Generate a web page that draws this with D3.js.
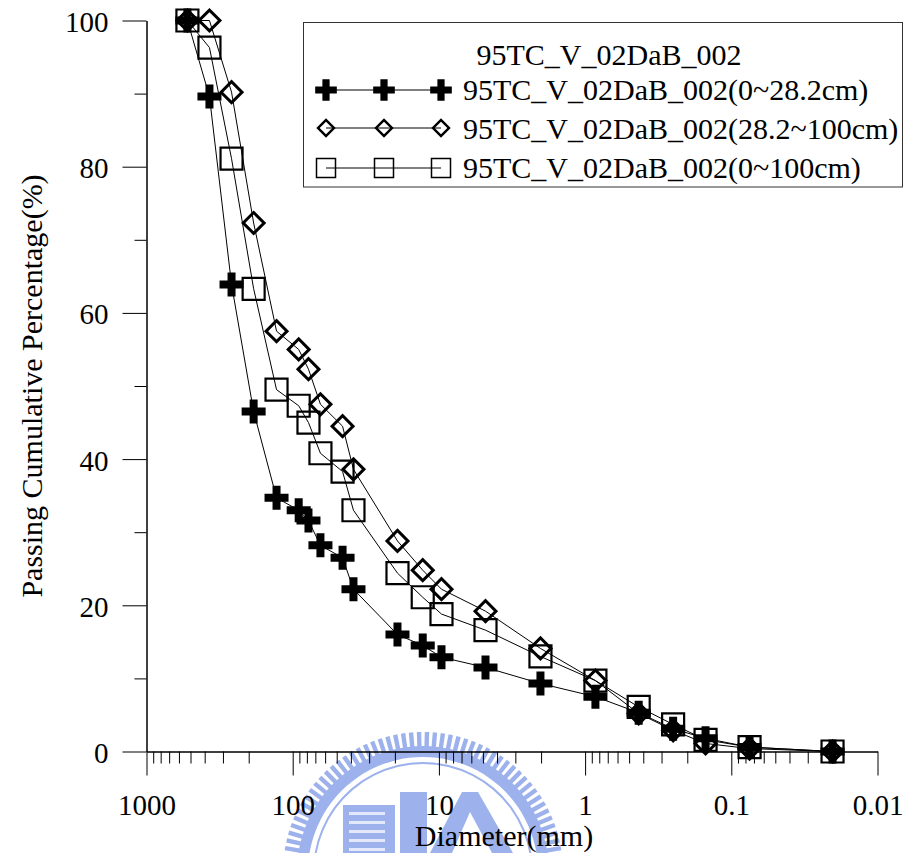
<!DOCTYPE html>
<html>
<head>
<meta charset="utf-8">
<script src="https://cdn.jsdelivr.net/npm/d3@7"></script>
<style>
  html, body { margin: 0; padding: 0; background: #fff; }
  svg { display: block; }
  svg text { font-family: "Liberation Serif", Tinos, "Times New Roman", Times, "DejaVu Serif", serif !important; fill: #000; }
</style>
</head>
<body>
<svg id="chart" width="907" height="853"></svg>
<script>
// ---------------- data ----------------
const diameters = [525, 371, 262, 185, 129, 91, 78, 64.6, 45.6, 38.4, 19.2, 12.9, 9.6, 4.8, 2.02, 0.85, 0.43, 0.25, 0.15, 0.075, 0.0203];
const pass0to28 = [100, 89.6, 63.9, 46.5, 34.7, 33, 31.6, 28.2, 26.5, 22.2, 16, 14.5, 12.9, 11.5, 9.3, 7.5, 5.3, 3.1, 1.8, 0.6, 0];
const pass28to100 = [100, 100, 90.2, 72.3, 57.5, 55, 52.3, 47.5, 44.5, 38.6, 28.8, 24.8, 22.2, 19.2, 14.1, 9.7, 5.2, 2.9, 1.1, 0.4, 0];
const pass0to100 = [100, 96.3, 81.1, 63.3, 49.5, 47.3, 45, 40.8, 38.3, 33, 24.4, 21.1, 18.8, 16.6, 13, 9.7, 6.1, 3.7, 1.6, 0.6, 0];
const seriesNames = ["95TC_V_02DaB_002(0~28.2cm)", "95TC_V_02DaB_002(28.2~100cm)", "95TC_V_02DaB_002(0~100cm)"];
const legendTitle = "95TC_V_02DaB_002";
const xTickValues = [1000, 100, 10, 1, 0.1, 0.01];
const xTickLabels = ["1000", "100", "10", "1", "0.1", "0.01"];
const yTickValues = [0, 20, 40, 60, 80, 100];
const yMinorValues = [10, 30, 50, 70, 90];
const xLabel = "Diameter(mm)";
const yLabel = "Passing Cumulative Percentage(%)";

const FONT = '"Liberation Serif", Tinos, "Times New Roman", Times, "DejaVu Serif", serif';

// ---------------- setup ----------------
const svg = d3.select("#chart");
const x = d3.scaleLog().domain([1000, 0.01]).range([146.5, 877.5]);
const y = d3.scaleLinear().domain([0, 100]).range([751.5, 20.5]);

// ---------------- watermark (faint logo) ----------------
const wm = svg.append("g").attr("fill", "#9db2ec").attr("stroke", "none");
const cx = 423, cy = 872;
const nTeeth = 110;
for (let i = 0; i < nTeeth; i++) {
  const a = (i / nTeeth) * 2 * Math.PI;
  if (Math.sin(a) > 0.25) continue;
  const deg = a * 180 / Math.PI;
  wm.append("rect")
    .attr("x", -2.2).attr("y", -140).attr("width", 4.4).attr("height", 15)
    .attr("transform", `translate(${cx},${cy}) rotate(${deg + 90})`);
}
wm.append("path")
  .attr("d", d3.arc().innerRadius(115).outerRadius(126).startAngle(-Math.PI * 0.62).endAngle(Math.PI * 0.62)())
  .attr("transform", `translate(${cx},${cy})`);
wm.append("path")
  .attr("d", d3.arc().innerRadius(108).outerRadius(110).startAngle(-Math.PI * 0.6).endAngle(Math.PI * 0.6)())
  .attr("transform", `translate(${cx},${cy})`);
// buildings
wm.append("rect").attr("x", 343).attr("y", 805).attr("width", 52).attr("height", 48);
for (let k = 0; k < 5; k++) {
  svg.append("rect").attr("x", 349).attr("y", 812 + k * 9).attr("width", 36).attr("height", 3).attr("fill", "#e3e9fb");
}
wm.append("rect").attr("x", 400).attr("y", 792).attr("width", 27).attr("height", 61);
wm.append("path").attr("d", "M430,853 L462,792 L478,792 L513,853 L492,853 L470,812 L452,853 Z");

// ---------------- axes ----------------
const minorX = [];
for (let e = -2; e <= 2; e++) for (let k = 2; k <= 9; k++) minorX.push(k * Math.pow(10, e));

const gxMinor = svg.append("g").attr("transform", `translate(0,${y(0)})`)
  .call(d3.axisBottom(x).tickValues(minorX).tickFormat("").tickSize(12).tickSizeOuter(0));
const gxMajor = svg.append("g").attr("transform", `translate(0,${y(0)})`)
  .call(d3.axisBottom(x).tickValues(xTickValues).tickFormat((d, i) => xTickLabels[i]).tickSize(24).tickSizeOuter(0));
gxMajor.selectAll("text").attr("y", 815 - y(0)).attr("dy", 0);

const gyMinor = svg.append("g").attr("transform", `translate(${x(1000)},0)`)
  .call(d3.axisLeft(y).tickValues(yMinorValues).tickFormat("").tickSize(12).tickSizeOuter(0));
const gyMajor = svg.append("g").attr("transform", `translate(${x(1000)},0)`)
  .call(d3.axisLeft(y).tickValues(yTickValues).tickSize(24).tickPadding(14).tickSizeOuter(0));
gyMajor.selectAll("text").attr("dy", 0).attr("y", 11);
[gxMinor, gxMajor, gyMinor, gyMajor].forEach(g => g.attr("font-family", FONT).attr("font-size", 29));
svg.selectAll(".domain, .tick line").attr("stroke", "#000").attr("stroke-width", 1);

// axis titles
svg.append("text").attr("x", 504).attr("y", 846).attr("text-anchor", "middle")
  .attr("font-family", FONT).attr("font-size", 30).text(xLabel);
svg.append("text").attr("transform", "translate(42,386) rotate(-90)").attr("text-anchor", "middle")
  .attr("font-family", FONT).attr("font-size", 30).text(yLabel);

// ---------------- series ----------------
const crossSym = d3.symbol(d3.symbolCross, 320);
const diamondSym = d3.symbol(d3.symbolSquare, 220);
const squareSym = d3.symbol(d3.symbolSquare, 484);

const series = [
  { name: seriesNames[0], values: pass0to28, kind: "cross" },
  { name: seriesNames[1], values: pass28to100, kind: "diamond" },
  { name: seriesNames[2], values: pass0to100, kind: "square" }
];

const line = d3.line().x(d => x(d[0])).y(d => y(d[1]));
series.forEach(s => {
  const pts = diameters.map((d, i) => [d, s.values[i]]);
  svg.append("path").attr("d", line(pts)).attr("fill", "none").attr("stroke", "#000").attr("stroke-width", 1);
});

function drawMarker(g, kind, px, py, legend) {
  if (kind === "cross") {
    g.append("path").attr("d", legend ? d3.symbol(d3.symbolCross, 260)() : crossSym())
      .attr("transform", `translate(${px},${py})`).attr("fill", "#000");
  } else if (kind === "diamond") {
    g.append("path").attr("d", legend ? d3.symbol(d3.symbolSquare, 128)() : diamondSym())
      .attr("transform", `translate(${px},${py}) rotate(45)`)
      .attr("fill", "none").attr("stroke", "#000").attr("stroke-width", legend ? 2.4 : 3);
  } else {
    g.append("path").attr("d", legend ? d3.symbol(d3.symbolSquare, 361)() : squareSym())
      .attr("transform", `translate(${px},${py})`)
      .attr("fill", "none").attr("stroke", "#000").attr("stroke-width", legend ? 1.5 : 2.2);
  }
}

const order = [2, 0, 1];
order.forEach(si => {
  const s = series[si];
  const g = svg.append("g");
  diameters.forEach((d, i) => drawMarker(g, s.kind, x(d), y(s.values[i]), false));
});

// ---------------- legend ----------------
const lg = svg.append("g").attr("font-family", FONT).attr("font-size", 30);
lg.append("rect").attr("x", 303.5).attr("y", 22.5).attr("width", 599).attr("height", 164.5)
  .attr("fill", "none").attr("stroke", "#333").attr("stroke-width", 1);
lg.append("text").attr("x", 609).attr("y", 65).attr("text-anchor", "middle").text(legendTitle);
const rowY = [90, 128, 168];
const textY = [100, 139, 178];
const symX = [326, 384, 441];
series.forEach((s, i) => {
  lg.append("line").attr("x1", symX[0]).attr("x2", symX[2]).attr("y1", rowY[i]).attr("y2", rowY[i])
    .attr("stroke", "#000").attr("stroke-width", 1);
  symX.forEach(sx => drawMarker(lg, s.kind, sx, rowY[i], true));
  lg.append("text").attr("x", 463).attr("y", textY[i]).text(s.name);
});
</script>
</body>
</html>
